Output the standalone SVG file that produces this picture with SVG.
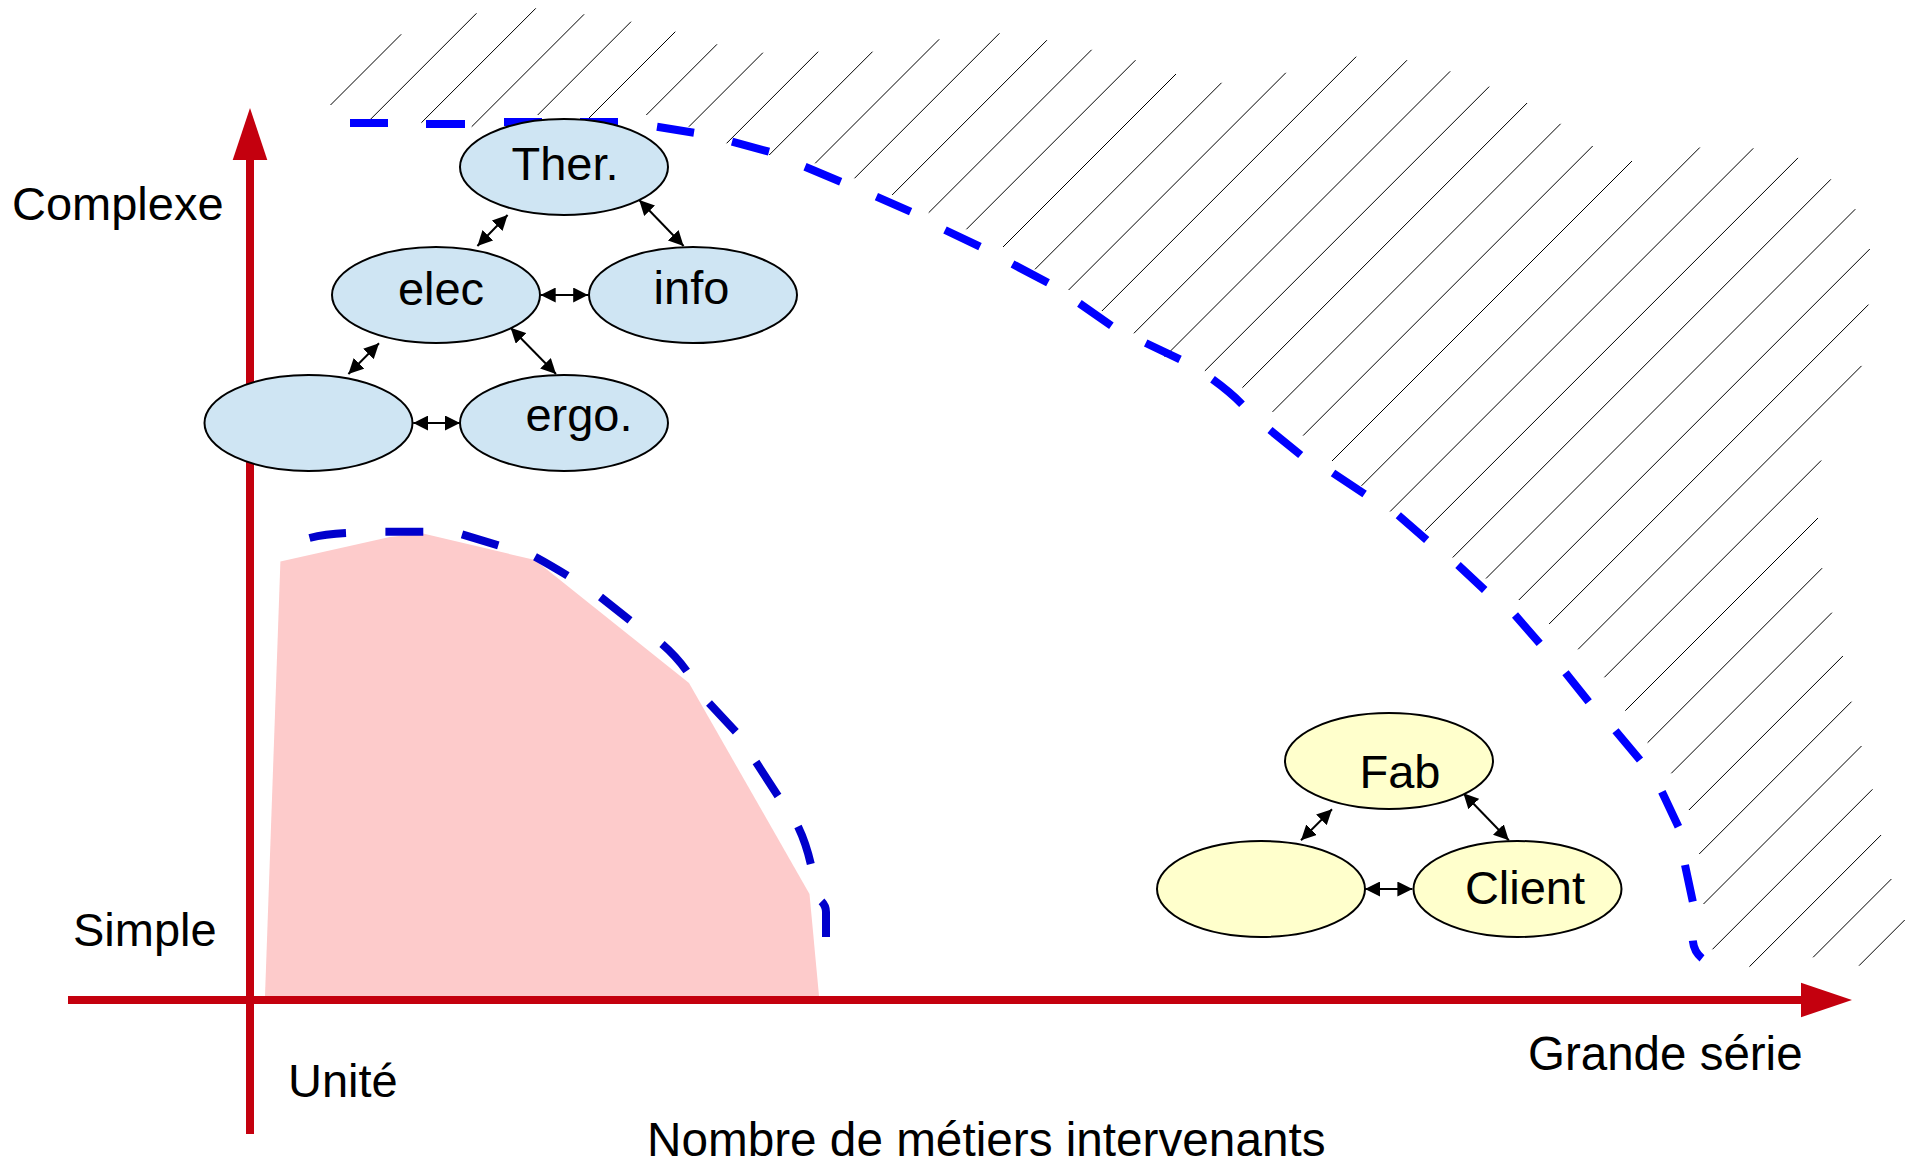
<svg xmlns="http://www.w3.org/2000/svg" width="1908" height="1166" viewBox="0 0 1908 1166">
<defs>
<style>
.lbl{font-family:"Liberation Sans",Arial,sans-serif;font-size:47px;fill:#000}
.nb{fill:#CFE5F3;stroke:#000;stroke-width:2}
.ny{fill:#FFFFCC;stroke:#000;stroke-width:2}
.cn{stroke:#000;stroke-width:2;fill:none;marker-start:url(#ah);marker-end:url(#ah)}
.axis{stroke:#C4000E;stroke-width:8;fill:none}
.hatch{stroke:#000;stroke-width:1;fill:none}
.dash{stroke-width:8;fill:none;stroke-linecap:butt}
</style>
<marker id="ah" viewBox="0 0 15 15" refX="15" refY="7.5" markerWidth="15" markerHeight="15" markerUnits="userSpaceOnUse" orient="auto-start-reverse">
<path d="M0,0 L15,7.5 L0,15 z" fill="#000"/>
</marker>
</defs>
<rect width="1908" height="1166" fill="#fff"/>
<g id="hatching">
<path class="hatch" d="M401.2,34.3L330.5,105 M476.5,13.3L366.5,123.3 M535.8,8.3L421.4,122.7 M584.1,14.3L471.7,126.7 M631,21.7L537.7,115 M675.3,31.7L588.7,118.3 M717,44.3L646.3,115 M762.9,52.7L688.9,126.7 M818.2,51.7L726.6,143.3 M872.5,51.7L769.2,155 M939.2,39.3L815.2,163.3 M999.5,33.3L854.5,178.3 M1046.9,40.2L892.1,195 M1091.6,49.8L928.7,212.7 M1135.5,60.2L966.4,229.3 M1176,74L1003,247 M1221.5,82.8L1035,269.3 M1285.8,72.8L1068.6,290 M1356.2,56.7L1101.9,311 M1407,60.2L1133.9,333.3 M1450.2,71.3L1164.5,357 M1489.2,86.6L1204.9,370.9 M1527.1,103L1242.4,387.7 M1560.6,123.8L1272.5,411.9 M1592.7,146L1303.1,435.6 M1632,161L1332,461 M1699.8,147.5L1361.5,485.8 M1753.3,148.3L1390.1,511.5 M1798,157.9L1425.2,530.7 M1830.9,179.3L1452.7,557.5 M1855.3,209.2L1486,578.5 M1869.8,249L1518.8,600 M1868.5,304.6L1549.1,624 M1861.5,365.9L1578.1,649.3 M1821.2,460.5L1604.4,677.3 M1818,518L1625.3,710.7 M1822.1,568.2L1647.6,742.7 M1831.9,612.7L1671.3,773.3 M1842.9,656L1688.9,810 M1851.5,701.7L1699.2,854 M1861.5,746L1703.5,904 M1872.5,789.3L1712.5,949.3 M1881.1,835L1749.4,966.7 M1891.4,879L1813.1,957.3 M1904.7,920L1859,965.7"/>
</g>
<g id="limit-large">
<path class="dash" stroke="#0000FF" d="M350,123L388,123 M426,124L465,124 M504,122L542,122 M580,122L618,122 M657,126.7L694,132.7 M732,141.7L769,151.7 M805,166.7L840.7,181.7 M876.4,196.7L910.6,211.7 M945,230L980,246.7 M1012.5,264L1048,282.8 M1079.4,303.4L1111.4,325.7 M1145.7,343L1180,359.4 M1212.5,379.3Q1230,392 1242,404.2 M1270,430L1300.7,455 M1333,473L1364.6,494 M1398.3,515.3L1426.7,540 M1458,565L1484.7,590 M1515,615L1539.7,643.3 M1565.5,672.7L1588.7,701.7 M1615.5,730.7L1640,760 M1661.9,791.7L1678.4,826.7 M1685,865L1692.8,901.7 M1692.8,940.7Q1694,952 1702,958.3"/>
</g>
<g id="zone-small">
<polygon points="265,996 280.4,561.4 389.8,537 423,533.6 535,560 689,683 809.5,894 819,996" fill="#FDCBCB"/>
<path class="dash" stroke="#0000CC" d="M309.5,538Q325,534 346,533 M385.4,531.8L423.3,531.8 M462,534.3L498.3,545.4 M535,556.8Q550,565 567.5,575.7 M600.5,597L630,620.4 M662,644Q676,656 686.7,671 M709,703L735.8,731.8 M756,762L778,796 M798,826.4Q806,843 810.8,864 M821.5,901.4Q826,906 826,912L826,937"/>
</g>
<g id="axes">
<line class="axis" x1="250" y1="1134" x2="250" y2="158"/>
<polygon points="250,108 232.7,160 267.3,160" fill="#C4000E"/>
<line class="axis" x1="68" y1="1000" x2="1803" y2="1000"/>
<polygon points="1852,1000 1801,982.7 1801,1017.3" fill="#C4000E"/>
</g>
<g id="connectors">
<line class="cn" x1="477.4" y1="246" x2="507.6" y2="215"/>
<line class="cn" x1="639.2" y1="200" x2="683.6" y2="246"/>
<line class="cn" x1="540.7" y1="295" x2="588.2" y2="295"/>
<line class="cn" x1="379" y1="343.3" x2="348.4" y2="374"/>
<line class="cn" x1="510.6" y1="327.7" x2="556" y2="374"/>
<line class="cn" x1="413.2" y1="423" x2="460" y2="423"/>
<line class="cn" x1="1332" y1="809.3" x2="1301" y2="840.3"/>
<line class="cn" x1="1463.4" y1="793.3" x2="1508.8" y2="840.3"/>
<line class="cn" x1="1365" y1="889" x2="1412.4" y2="889"/>
</g>
<g id="node-ther"><ellipse class="nb" cx="564" cy="167" rx="104" ry="48"/><text class="lbl" x="565" y="180" text-anchor="middle">Ther.</text></g>
<g id="node-elec"><ellipse class="nb" cx="436" cy="295" rx="104" ry="48"/><text class="lbl" x="441" y="305" text-anchor="middle">elec</text></g>
<g id="node-info"><ellipse class="nb" cx="693" cy="295" rx="104" ry="48"/><text class="lbl" x="691.5" y="304" text-anchor="middle">info</text></g>
<g id="node-blank-blue"><ellipse class="nb" cx="308.5" cy="423" rx="104" ry="48"/></g>
<g id="node-ergo"><ellipse class="nb" cx="564" cy="423" rx="104" ry="48"/><text class="lbl" x="579" y="431" text-anchor="middle">ergo.</text></g>
<g id="node-fab"><ellipse class="ny" cx="1389" cy="761" rx="104" ry="48"/><text class="lbl" x="1400" y="788" text-anchor="middle">Fab</text></g>
<g id="node-blank-yellow"><ellipse class="ny" cx="1261" cy="889" rx="104" ry="48"/></g>
<g id="node-client"><ellipse class="ny" cx="1517.5" cy="889" rx="104" ry="48"/><text class="lbl" x="1525" y="904" text-anchor="middle">Client</text></g>
<g id="labels">
<text class="lbl" x="12" y="220">Complexe</text>
<text class="lbl" x="73" y="946">Simple</text>
<text class="lbl" x="288" y="1097">Unité</text>
<text class="lbl" x="1528" y="1070" style="font-size:47.5px">Grande série</text>
<text class="lbl" x="647" y="1156" style="font-size:47.7px">Nombre de métiers intervenants</text>
</g>
</svg>
